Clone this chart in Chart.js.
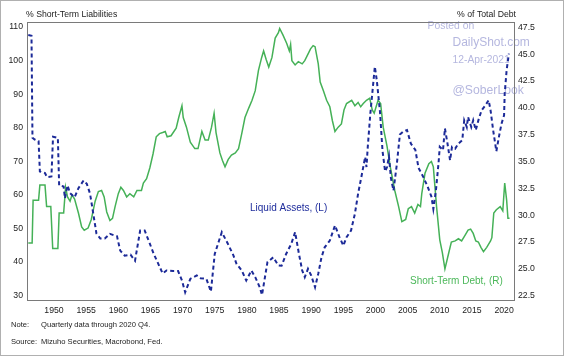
<!DOCTYPE html>
<html><head><meta charset="utf-8">
<script src="https://cdn.jsdelivr.net/npm/chart.js@4"></script>
<style>html,body{margin:0;padding:0;background:#fff}#wrap{position:relative;width:564px;height:356px}</style>
</head><body><div id="wrap"><canvas id="c" width="564" height="356"></canvas></div>
<script>
const xTicks = [1950,1955,1960,1965,1970,1975,1980,1985,1990,1995,2000,2005,2010,2015,2020];
const leftTicks = [30,40,50,60,70,80,90,100,110];
const rightTicks = [22.5,25,27.5,30,32.5,35,37.5,40,42.5,45,47.5];

const liquidYears = [1946.0,1946.5,1946.65,1947.0,1947.6,1947.8,1948.6,1948.9,1949.6,1949.85,1950.6,1950.8,1951.5,1951.7,1952.1,1952.5,1953.2,1953.8,1954.6,1955.1,1955.6,1956.1,1956.6,1957.2,1957.9,1958.7,1959.3,1959.8,1960.3,1961.0,1961.9,1962.6,1963.4,1964.1,1964.9,1965.5,1966.0,1966.9,1967.5,1968.5,1969.3,1969.9,1970.4,1971.2,1972.2,1972.8,1973.7,1974.4,1975.0,1975.5,1976.1,1977.0,1977.9,1978.4,1979.2,1979.9,1980.7,1981.3,1982.0,1982.35,1983.2,1984.1,1984.9,1985.4,1986.1,1986.9,1987.5,1988.1,1988.6,1989.0,1989.5,1990.0,1990.6,1991.1,1991.6,1992.1,1992.9,1993.7,1994.4,1995.0,1995.5,1996.2,1996.8,1997.3,1997.8,1998.4,1998.6,1998.8,1999.2,1999.6,1999.9,2000.2,2000.7,2001.1,2001.5,2001.8,2002.1,2002.4,2002.8,2003.3,2003.8,2004.4,2004.9,2005.5,2006.2,2006.7,2007.4,2008.1,2008.7,2009.0,2009.4,2009.8,2010.0,2010.5,2010.8,2011.2,2011.6,2011.9,2012.4,2012.9,2013.5,2013.8,2014.2,2014.4,2014.9,2015.2,2015.6,2016.0,2016.5,2017.1,2017.6,2017.9,2018.3,2018.8,2019.2,2019.6,2020.0,2020.1,2020.4,2020.75];
const liquidValues = [107.6,107.4,77.0,76.5,76.0,67.0,66.5,65.3,65.5,77.3,77.0,62.8,62.5,59.0,62.8,60.5,59.3,62.0,64.3,63.3,60.4,54.5,48.5,47.0,47.0,48.4,48.0,47.7,43.4,41.9,42.2,40.4,49.4,49.4,45.5,42.5,40.4,36.6,37.5,37.3,37.3,34.5,31.0,35.0,36.0,35.2,35.0,31.2,42.4,45.4,48.9,45.6,42.0,39.4,37.5,34.5,37.5,35.5,32.5,30.2,40.0,41.4,39.0,38.9,42.4,45.4,48.9,42.4,37.5,35.5,38.0,36.0,32.5,36.5,41.4,44.4,46.4,50.9,47.4,44.9,47.4,49.4,54.4,60.4,65.3,71.3,68.3,74.3,84.2,92.2,98.2,94.2,84.8,73.0,67.0,68.3,71.5,65.0,61.3,68.8,78.0,79.0,79.3,75.3,73.4,68.0,65.5,62.5,59.5,55.8,61.3,69.3,74.3,73.3,79.8,75.3,70.3,74.3,73.8,75.3,76.3,82.2,80.2,83.2,80.2,82.2,79.3,82.2,85.2,86.7,88.2,85.2,79.3,73.0,77.3,81.2,83.7,90.2,97.2,102.1];

const debtYears = [1946.0,1946.6,1946.75,1947.6,1947.8,1948.6,1948.85,1949.5,1949.8,1950.6,1950.8,1951.5,1951.8,1952.1,1952.5,1952.8,1953.2,1953.8,1954.3,1954.7,1955.3,1955.8,1956.4,1956.9,1957.4,1957.8,1958.2,1958.7,1959.1,1959.5,1960.0,1960.4,1960.8,1961.3,1961.8,1962.4,1962.9,1963.6,1963.9,1964.4,1964.9,1965.4,1965.9,1966.4,1966.9,1967.3,1967.6,1968.2,1969.0,1969.4,1969.9,1970.1,1970.6,1971.2,1971.9,1972.4,1973.0,1973.5,1974.0,1974.5,1974.9,1975.2,1975.8,1976.2,1976.6,1977.1,1977.6,1978.2,1978.7,1979.2,1979.7,1980.3,1980.8,1981.3,1981.8,1982.3,1982.6,1983.0,1983.4,1983.9,1984.4,1984.9,1985.1,1985.6,1986.2,1986.6,1986.8,1987.0,1987.5,1988.0,1988.6,1989.0,1989.5,1989.9,1990.3,1990.6,1991.1,1991.4,1991.9,1992.4,1992.9,1993.3,1993.7,1994.2,1994.7,1995.1,1995.5,1996.3,1996.8,1997.3,1997.7,1998.1,1998.6,1999.1,1999.5,1999.8,2000.1,2000.4,2000.8,2001.2,2001.8,2002.3,2003.0,2003.6,2004.1,2004.7,2005.1,2005.6,2006.1,2006.6,2007.0,2007.2,2007.7,2008.3,2008.7,2009.0,2009.5,2010.0,2010.4,2010.8,2011.4,2011.8,2012.4,2012.9,2013.4,2013.9,2014.4,2014.8,2015.2,2015.6,2016.0,2016.4,2016.8,2017.3,2017.9,2018.1,2018.4,2018.8,2019.4,2019.8,2020.1,2020.4,2020.6,2020.85];
const debtValues = [27.4,27.4,31.4,31.4,32.8,32.8,30.8,30.8,26.9,26.9,30.2,30.2,32.6,31.7,31.3,31.9,31.5,30.2,28.9,28.6,28.8,29.6,31.3,32.2,32.3,31.7,30.3,29.5,29.7,30.8,32.0,32.6,32.3,31.7,32.0,31.7,32.3,32.3,33.0,33.4,34.4,35.7,37.3,37.6,37.7,37.8,37.3,37.4,38.1,39.1,40.2,39.1,38.2,36.8,36.2,36.2,37.8,37.0,37.0,38.2,39.5,37.7,35.8,35.1,34.5,35.2,35.6,35.8,36.2,37.6,39.1,40.0,40.7,41.6,43.5,44.7,45.3,44.5,43.8,44.7,46.5,47.0,47.4,46.8,46.0,45.3,45.9,44.4,44.0,44.3,44.1,44.4,45.0,45.5,45.8,45.7,44.1,42.4,41.6,40.7,40.1,38.8,37.8,38.2,38.5,39.8,40.4,40.7,40.2,40.5,40.1,40.4,40.7,40.9,39.8,39.5,40.1,40.7,40.4,38.2,36.4,34.5,32.3,30.8,29.4,29.6,30.6,30.8,30.2,31.0,30.8,32.0,33.9,34.8,35.0,34.5,30.8,27.7,26.5,25.0,26.5,27.5,27.6,27.8,27.6,28.1,28.6,28.7,28.3,27.6,27.5,27.0,26.6,27.0,27.6,27.9,30.2,30.5,30.8,30.4,33.0,31.4,29.7,29.7];

const FONT = '"Liberation Sans", Arial, sans-serif';
const toPts = (xs, ys) => xs.map((x, i) => ({x: x, y: ys[i]}));

const decor = {
  id: 'decor',
  beforeDatasetsDraw(chart) {
    const ctx = chart.ctx;
    ctx.save();
    ctx.fillStyle = '#b5b7df';
    ctx.textBaseline = 'middle';
    ctx.textAlign = 'left';
    ctx.font = '10.4px ' + FONT; ctx.fillText('Posted on', 427.5, 26.5);
    ctx.font = '12px ' + FONT; ctx.fillText('DailyShot.com', 452.5, 43);
    ctx.font = '10.3px ' + FONT; ctx.fillText('12-Apr-2021', 452.5, 60.5);
    ctx.font = '12.2px ' + FONT; ctx.fillText('@SoberLook', 452.5, 90.5);
    ctx.restore();
  },
  afterDraw(chart) {
    const ctx = chart.ctx, a = chart.chartArea;
    ctx.save();
    ctx.strokeStyle = '#7a7a7a'; ctx.lineWidth = 1;
    ctx.strokeRect(Math.round(a.left) + 0.5, Math.round(a.top) + 0.5, Math.round(a.right - a.left) - 1, Math.round(a.bottom - a.top) - 1);
    ctx.strokeStyle = '#b0b0b0';
    ctx.strokeRect(0.5, 0.5, 563, 355);
    ctx.fillStyle = '#222';
    ctx.textBaseline = 'middle';
    ctx.font = '8.7px ' + FONT;
    ctx.textAlign = 'left'; ctx.fillText('% Short-Term Liabilities', 26, 15);
    ctx.textAlign = 'right'; ctx.fillText('% of Total Debt', 516, 15);
    ctx.textAlign = 'left';
    ctx.font = '7.6px ' + FONT;
    ctx.fillText('Note:', 11, 325);
    ctx.fillText('Quarterly data through 2020 Q4.', 41, 325);
    ctx.fillText('Source:', 11, 342);
    ctx.fillText('Mizuho Securities, Macrobond, Fed.', 41, 342);
    ctx.font = '10px ' + FONT;
    ctx.fillStyle = '#1f2d9c'; ctx.fillText('Liquid Assets, (L)', 250, 208.5);
    ctx.fillStyle = '#4cb85a'; ctx.fillText('Short-Term Debt, (R)', 410, 281);
    ctx.restore();
  }
};

new Chart(document.getElementById('c'), {
  type: 'line',
  data: {
    datasets: [
      {label: 'Liquid Assets, (L)', data: toPts(liquidYears, liquidValues), yAxisID: 'yL',
       borderColor: '#1c2a98', borderWidth: 2, borderDash: [4, 3], pointRadius: 0, tension: 0, order: 0},
      {label: 'Short-Term Debt, (R)', data: toPts(debtYears, debtValues), yAxisID: 'yR',
       borderColor: '#45b157', borderWidth: 1.5, pointRadius: 0, tension: 0, order: 1}
    ]
  },
  options: {
    responsive: false, animation: false, devicePixelRatio: 1,
    layout: {padding: {top: 22, left: 0, right: 0, bottom: 0}},
    plugins: {legend: {display: false}, tooltip: {enabled: false}},
    scales: {
      x: {type: 'linear', position: 'bottom', min: 1945.8, max: 2021.7,
          grid: {display: false, drawTicks: false, tickLength: 0}, border: {display: false},
          afterBuildTicks: s => { s.ticks = xTicks.map(v => ({value: v})); },
          afterFit: s => { s.height = 55; },
          ticks: {autoSkip: false, maxRotation: 0, padding: 4, color: '#222', font: {family: FONT, size: 8.7},
                  callback: v => String(v)}},
      yL: {type: 'linear', position: 'left', min: 28.4, max: 111.5,
           grid: {display: false, drawTicks: false, tickLength: 0}, border: {display: false},
           afterBuildTicks: s => { s.ticks = leftTicks.map(v => ({value: v})); },
           afterFit: s => { s.width = 27; },
           ticks: {padding: 4, color: '#222', font: {family: FONT, size: 8.7}, callback: v => String(v)}},
      yR: {type: 'linear', position: 'right', min: 22, max: 48,
           grid: {display: false, drawTicks: false, tickLength: 0}, border: {display: false},
           afterBuildTicks: s => { s.ticks = rightTicks.map(v => ({value: v})); },
           afterFit: s => { s.width = 49; },
           ticks: {padding: 3, color: '#222', font: {family: FONT, size: 8.7}, callback: v => Number(v).toFixed(1)}}
    }
  },
  plugins: [decor]
});
</script></body></html>
